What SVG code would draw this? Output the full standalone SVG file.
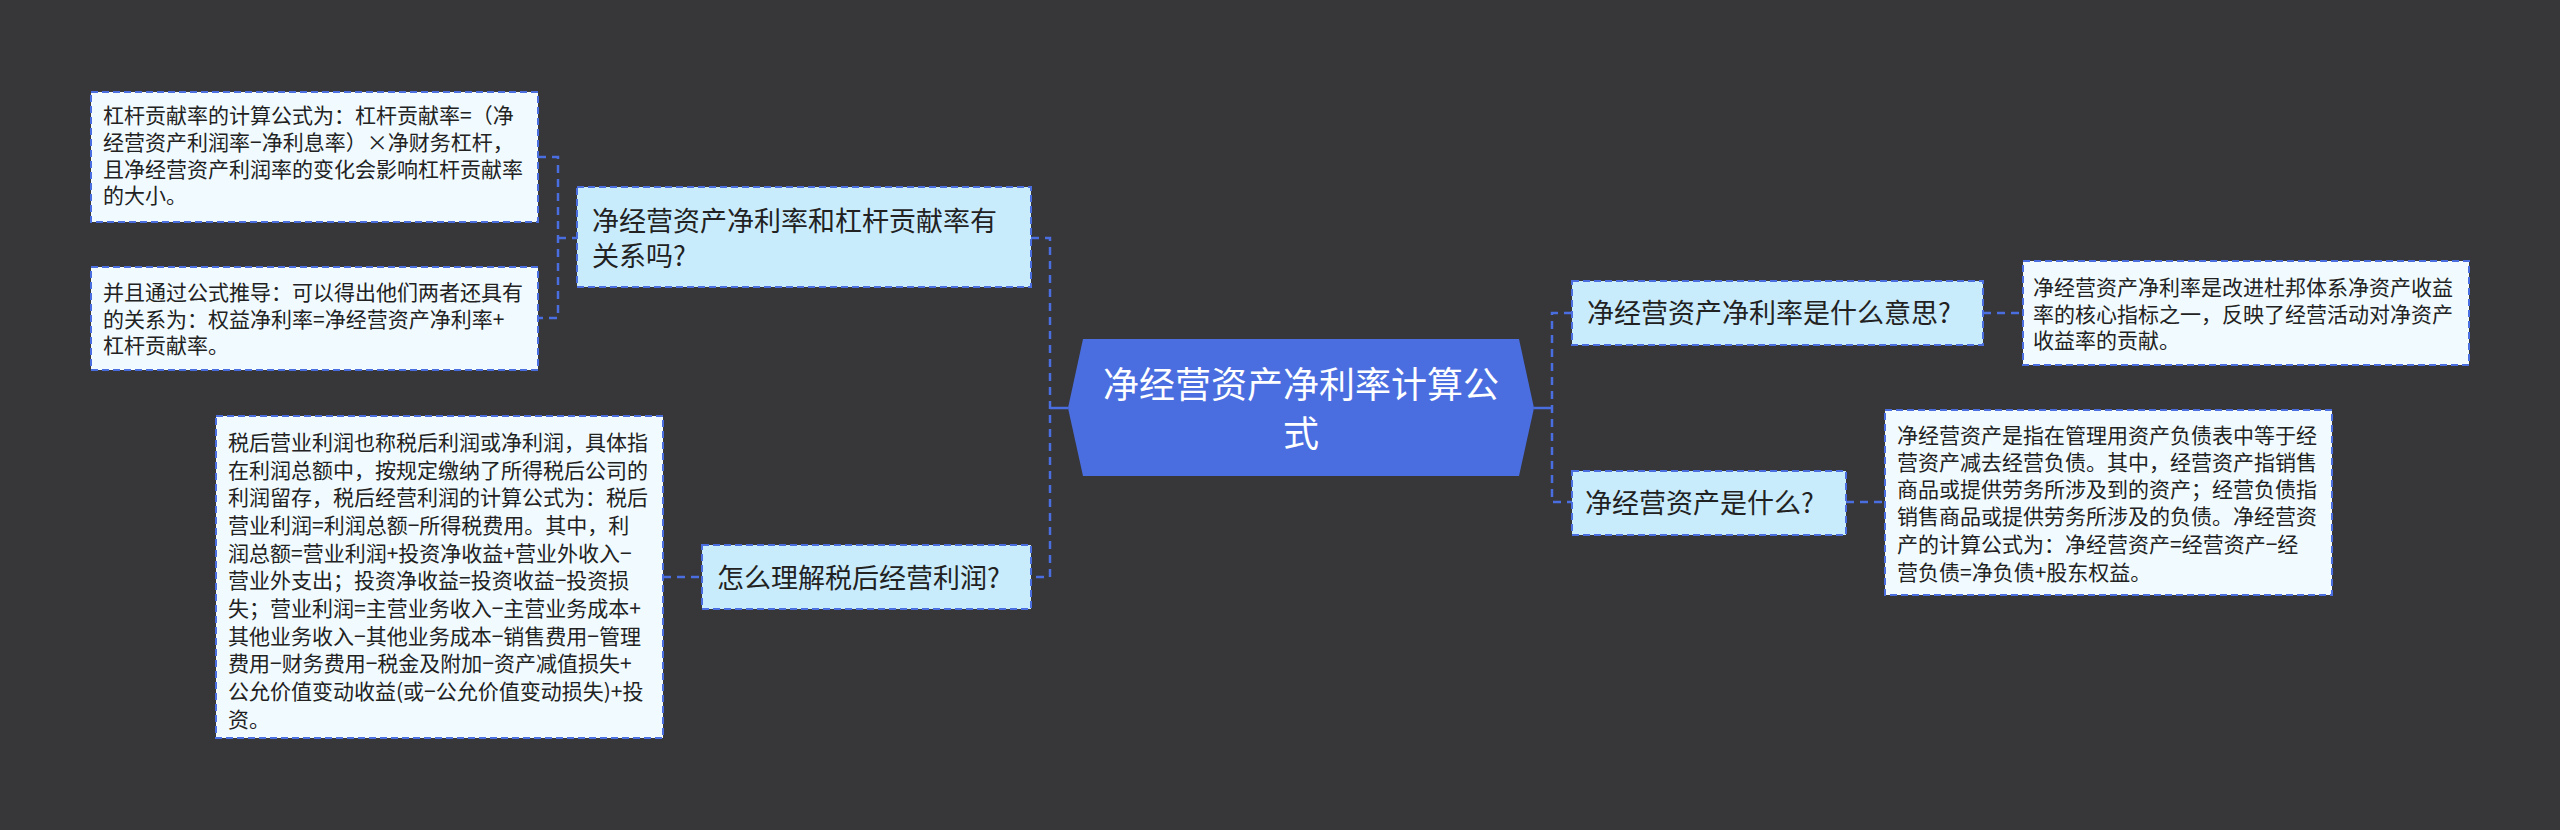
<svg xmlns="http://www.w3.org/2000/svg" width="2560" height="830" viewBox="0 0 2560 830">
<style>
text{font-family:"Noto Sans CJK SC","Noto Sans",sans-serif;}
.leaf rect{fill:#f1fbff;stroke:#4a6ee0;stroke-width:2;stroke-dasharray:7 4;}
.leaf text{font-size:21px;fill:#222;}
.sub rect{fill:#c9ecfc;stroke:#4a6ee0;stroke-width:2;stroke-dasharray:7 4;}
.sub text{font-size:27px;fill:#222;}
.conn path{fill:none;stroke:#4a6ee0;stroke-width:2.5;stroke-dasharray:8 6;}
</style>
<rect width="2560" height="830" fill="#373639"/>
<g class="conn" id="connectors">
<path d="M538 157H558V318H538"/>
<path d="M558 238H577"/>
<path d="M1031 238H1050V577H1031"/>
<path d="M663 577H702"/>
<path d="M1050 408H1068" style="stroke-dasharray:none"/>
<path d="M1534 408H1552" style="stroke-dasharray:none"/>
<path d="M1572 313H1552V502H1572"/>
<path d="M1983 313H2023"/>
<path d="M1846 502H1885"/>
</g>
<g id="center">
<polygon points="1083,339 1519,339 1534,408 1519,476 1083,476 1068,408" fill="#4a6ee0"/>
<text x="1301" y="398" font-size="36" fill="#fff" text-anchor="middle">净经营资产净利率计算公</text>
<text x="1301" y="447" font-size="36" fill="#fff" text-anchor="middle">式</text>
</g>
<g id="n1" class="sub">
<rect x="577" y="187" width="454" height="100"/>
<text x="592" y="231">净经营资产净利率和杠杆贡献率有</text>
<text x="592" y="266">关系吗?</text>
</g>
<g id="n1a" class="leaf">
<rect x="91" y="92" width="447" height="130"/>
<text x="103" y="123">杠杆贡献率的计算公式为：杠杆贡献率=（净</text>
<text x="103" y="150">经营资产利润率−净利息率）×净财务杠杆，</text>
<text x="103" y="177">且净经营资产利润率的变化会影响杠杆贡献率</text>
<text x="103" y="203">的大小。</text>
</g>
<g id="n1b" class="leaf">
<rect x="91" y="267" width="447" height="103"/>
<text x="103" y="300">并且通过公式推导：可以得出他们两者还具有</text>
<text x="103" y="327">的关系为：权益净利率=净经营资产净利率+</text>
<text x="103" y="353">杠杆贡献率。</text>
</g>
<g id="n2" class="sub">
<rect x="702" y="545" width="329" height="64"/>
<text x="717" y="588">怎么理解税后经营利润?</text>
</g>
<g id="n2a" class="leaf">
<rect x="216" y="416" width="447" height="322"/>
<text x="228" y="450">税后营业利润也称税后利润或净利润，具体指</text>
<text x="228" y="478">在利润总额中，按规定缴纳了所得税后公司的</text>
<text x="228" y="505">利润留存，税后经营利润的计算公式为：税后</text>
<text x="228" y="533">营业利润=利润总额−所得税费用。其中，利</text>
<text x="228" y="561">润总额=营业利润+投资净收益+营业外收入−</text>
<text x="228" y="588">营业外支出；投资净收益=投资收益−投资损</text>
<text x="228" y="616">失；营业利润=主营业务收入−主营业务成本+</text>
<text x="228" y="644">其他业务收入−其他业务成本−销售费用−管理</text>
<text x="228" y="671">费用−财务费用−税金及附加−资产减值损失+</text>
<text x="228" y="699">公允价值变动收益(或−公允价值变动损失)+投</text>
<text x="228" y="727">资。</text>
</g>
<g id="n3" class="sub">
<rect x="1572" y="281" width="411" height="64"/>
<text x="1587" y="323">净经营资产净利率是什么意思?</text>
</g>
<g id="n3a" class="leaf">
<rect x="2023" y="261" width="446" height="104"/>
<text x="2033" y="295">净经营资产净利率是改进杜邦体系净资产收益</text>
<text x="2033" y="322">率的核心指标之一，反映了经营活动对净资产</text>
<text x="2033" y="348">收益率的贡献。</text>
</g>
<g id="n4" class="sub">
<rect x="1572" y="471" width="274" height="64"/>
<text x="1585" y="513">净经营资产是什么?</text>
</g>
<g id="n4a" class="leaf">
<rect x="1885" y="410" width="447" height="185"/>
<text x="1897" y="443">净经营资产是指在管理用资产负债表中等于经</text>
<text x="1897" y="470">营资产减去经营负债。其中，经营资产指销售</text>
<text x="1897" y="497">商品或提供劳务所涉及到的资产；经营负债指</text>
<text x="1897" y="524">销售商品或提供劳务所涉及的负债。净经营资</text>
<text x="1897" y="552">产的计算公式为：净经营资产=经营资产−经</text>
<text x="1897" y="580">营负债=净负债+股东权益。</text>
</g>
</svg>
